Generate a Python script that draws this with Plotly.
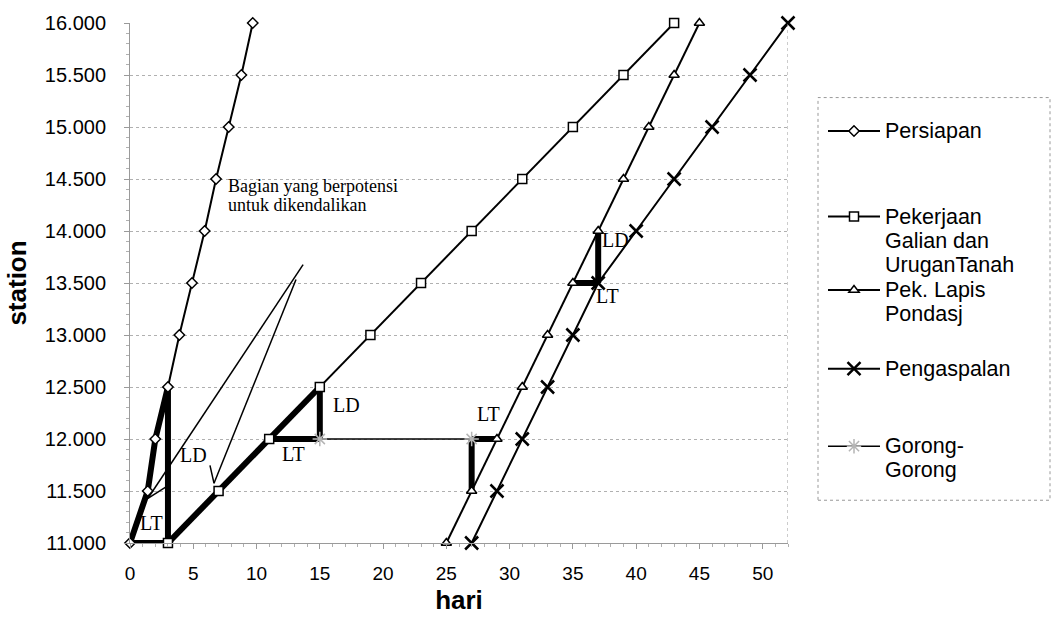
import plotly.graph_objects as go

# ---------------- data ----------------
station = [11000, 11500, 12000, 12500, 13000, 13500, 14000, 14500, 15000, 15500, 16000]
hari_persiapan = [0, 1.4, 2, 3, 3.9, 4.9, 5.9, 6.8, 7.8, 8.8, 9.7]
hari_galian = [3, 7, 11, 15, 19, 23, 27, 31, 35, 39, 43]
hari_lapis = [25, 27, 29, 31, 33, 35, 37, 39, 41, 43, 45]
hari_aspal = [27, 29, 31, 33, 35, 37, 40, 43, 46, 49, 52]
hari_gorong = [15, 27]
station_gorong = [12000, 12000]

x_ticks = [0, 5, 10, 15, 20, 25, 30, 35, 40, 45, 50]

series = {
    "P": (hari_persiapan, station),
    "G": (hari_galian, station),
    "L": (hari_lapis, station),
    "A": (hari_aspal, station),
    "C": (hari_gorong, station_gorong),
}

# critical path (thick), as references to points of the series
critical_path = [
    [("P", 0), ("P", 1), ("P", 2), ("P", 3)],
    [("P", 3), ("G", 0)],
    [("P", 0), ("G", 0)],
    [("G", 0), ("G", 1), ("G", 2), ("G", 3)],
    [("G", 2), ("C", 0)],
    [("G", 3), ("C", 0)],
    [("C", 1), ("L", 2)],
    [("C", 1), ("L", 1)],
    [("L", 5), ("A", 5)],
    [("A", 5), ("L", 6)],
]

cx, cy = [], []
for seg in critical_path:
    for key, i in seg:
        cx.append(series[key][0][i])
        cy.append(series[key][1][i])
    cx.append(None)
    cy.append(None)

fig = go.Figure()

fig.add_trace(go.Scatter(x=cx, y=cy, mode="lines", line=dict(color="black", width=6),
                         showlegend=False, hoverinfo="skip", cliponaxis=False))

SP = '<span style="font-size:21.5px">{}</span>'

def lab(lines):
    return "<br>".join(SP.format(t) for t in lines)

fig.add_trace(go.Scatter(
    x=hari_persiapan, y=station, mode="lines+markers", name=lab(["Persiapan"]),
    line=dict(color="black", width=2), cliponaxis=False,
    marker=dict(symbol="diamond", size=8, color="white", line=dict(color="black", width=1.5)),
    legend="legend"))
fig.add_trace(go.Scatter(
    x=hari_galian, y=station, mode="lines+markers",
    name=lab(["Pekerjaan", "Galian dan", "UruganTanah"]),
    line=dict(color="black", width=2), cliponaxis=False,
    marker=dict(symbol="square", size=9, color="white", line=dict(color="black", width=1.5)),
    legend="legend2"))
fig.add_trace(go.Scatter(
    x=hari_lapis, y=station, mode="lines+markers", name=lab(["Pek. Lapis", "Pondasj"]),
    line=dict(color="black", width=2), cliponaxis=False,
    marker=dict(symbol="triangle-up", size=9, color="white", line=dict(color="black", width=1.5)),
    legend="legend3"))
fig.add_trace(go.Scatter(
    x=hari_aspal, y=station, mode="lines+markers", name=lab(["Pengaspalan"]),
    line=dict(color="black", width=2), cliponaxis=False,
    marker=dict(symbol="x-thin", size=13, color="black", line=dict(color="black", width=2.5)),
    legend="legend4"))
fig.add_trace(go.Scatter(
    x=hari_gorong, y=station_gorong, mode="lines+markers", name=lab(["Gorong-", "Gorong"]),
    line=dict(color="black", width=1.5), cliponaxis=False,
    marker=dict(symbol="asterisk", size=12, color="#b5b5b5", line=dict(color="#b5b5b5", width=1.5)),
    legend="legend5"))

# plot area pixel geometry
L, R, T, B = 130, 788, 20, 543
W, H = 1056, 622
def px(xp):
    return (xp - L) / (R - L)
def py(yp):
    return (B - yp) / (B - T)

legfont = dict(family="Liberation Sans, Arial", size=18.5, color="black")
def leg(ytop):
    return dict(x=px(823), y=py(ytop), xanchor="left", yanchor="top", valign="top",
                bgcolor="rgba(0,0,0,0)", borderwidth=0, font=legfont, itemwidth=52,
                tracegroupgap=0)

# annotations
ann_font = dict(family="Liberation Serif, Times New Roman", size=20, color="black")
labels = [
    ("LT", 1.66, 11191), ("LD", 5.0, 11845), ("LT", 12.9, 11860), ("LD", 17.1, 12329),
    ("LT", 28.3, 12238), ("LD", 38.4, 13916), ("LT", 37.7, 13371),
]
annotations = [dict(x=x, y=y, xref="x", yref="y", text=t, showarrow=False, font=ann_font)
               for t, x, y in labels]
note_font = dict(family="Liberation Serif, Times New Roman", size=18, color="black")
annotations += [
    dict(x=7.59, y=14432, xref="x", yref="y", xanchor="left", text="Bagian yang berpotensi",
         showarrow=False, font=note_font),
    dict(x=7.59, y=14251, xref="x", yref="y", xanchor="left", text="untuk dikendalikan",
         showarrow=False, font=note_font),
]

thin = dict(color="black", width=1.5)
shapes = [
    dict(type="line", xref="x", yref="y", x0=13.68, y0=13677, x1=1.42, y1=11430, line=thin),
    dict(type="line", xref="x", yref="y", x0=13.12, y0=13533, x1=6.64, y1=11574, line=thin),
    dict(type="line", xref="x", yref="y", x0=1.42, y0=11430, x1=3.16, y1=11564, line=thin),
    dict(type="line", xref="x", yref="y", x0=6.32, y0=11746, x1=6.64, y1=11574, line=thin),
    dict(type="line", xref="x", yref="paper", x0=52, x1=52, y0=0, y1=1,
         line=dict(color="#999999", width=1, dash="dot")),
    dict(type="rect", xref="paper", yref="paper", x0=px(818), x1=px(1050), y0=py(500), y1=py(95),
         line=dict(color="#999999", width=1, dash="dot")),
]

fig.update_layout(
    width=W, height=H,
    margin=dict(l=L, r=W - R, t=T, b=H - B),
    paper_bgcolor="white", plot_bgcolor="white",
    separators=",.",
    font=dict(family="Liberation Sans, Arial", color="black"),
    xaxis=dict(range=[0, 52], tickvals=x_ticks, showgrid=False, zeroline=False,
               showline=True, linecolor="#9a9a9a", linewidth=1,
               ticks="outside", ticklen=5, tickcolor="#9a9a9a",
               minor=dict(dtick=1, ticks="outside", ticklen=3, tickcolor="#b0b0b0"),
               tickfont=dict(size=19, color="black"), ticklabelstandoff=8,
               title=dict(text="<b>hari</b>", font=dict(size=26, color="black"), standoff=8)),
    yaxis=dict(range=[11000, 16000], dtick=500, tick0=11000, tickformat=",d",
               showgrid=True, gridcolor="#b0b0b0", griddash="dot", gridwidth=1,
               zeroline=False, showline=True, linecolor="#9a9a9a", linewidth=1,
               ticks="outside", ticklen=5, tickcolor="#9a9a9a",
               minor=dict(dtick=100, ticks="outside", ticklen=3, tickcolor="#b0b0b0"),
               tickfont=dict(size=20, color="black"), ticklabelstandoff=14,
               title=dict(text="<b>station</b>", font=dict(size=26, color="black"), standoff=10)),
    legend=leg(110), legend2=leg(196), legend3=leg(270), legend4=leg(349), legend5=leg(427),
    annotations=annotations,
    shapes=shapes,
)

fig.write_html("out.html")
